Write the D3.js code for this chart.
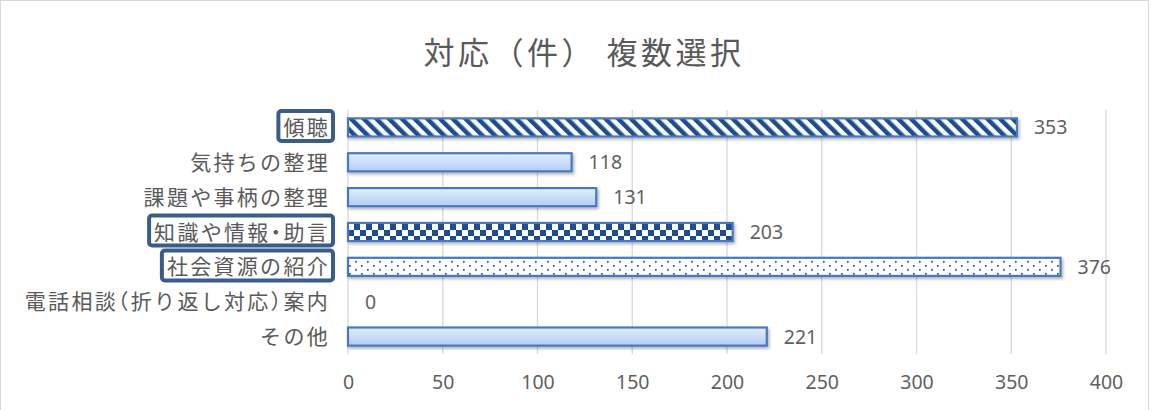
<!DOCTYPE html>
<html>
<head>
<meta charset="utf-8">
<script src="https://cdn.jsdelivr.net/npm/d3@7"></script>
<style>
  body { margin: 0; background: #fff; }
  svg { display: block; font-family: "Noto Sans CJK JP", "Noto Sans", sans-serif; }
</style>
</head>
<body>
<div id="chart"></div>
<script>
// chart data
const categories = ["傾聴", "気持ちの整理", "課題や事柄の整理", "知識や情報・助言", "社会資源の紹介", "電話相談（折り返し対応）案内", "その他"];
const counts = [353, 118, 131, 203, 376, 0, 221];
const fills = ["stripe", "plain", "plain", "check", "dots", "plain", "plain"];
const boxed = [true, false, false, true, true, false, false];
const xTicks = [0, 50, 100, 150, 200, 250, 300, 350, 400];
const title = "対応（件） 複数選択";

const W = 1151, H = 410;
const margin = { left: 348, right: 45, top: 110, bottom: 56 };
const numFont = "'Noto Sans', 'Noto Sans CJK JP', sans-serif";

const svg = d3.select("#chart").append("svg")
    .attr("width", W).attr("height", H);

const defs = svg.append("defs");

// light blue gradient for plain bars
const grad = defs.append("linearGradient").attr("id", "barGrad")
    .attr("x1", 0).attr("y1", 0).attr("x2", 0).attr("y2", 1);
grad.append("stop").attr("offset", "0%").attr("stop-color", "#e3eefd");
grad.append("stop").attr("offset", "100%").attr("stop-color", "#b3cdf6");

const dark = "#1f4e8c";

// diagonal stripes
const ps = defs.append("pattern").attr("id", "stripe").attr("patternUnits", "userSpaceOnUse")
    .attr("width", 9).attr("height", 9).attr("patternTransform", "rotate(-45)");
ps.append("rect").attr("width", 9).attr("height", 9).attr("fill", "#fff");
ps.append("rect").attr("width", 4.5).attr("height", 9).attr("fill", dark);

// checkerboard
const pc = defs.append("pattern").attr("id", "check").attr("patternUnits", "userSpaceOnUse")
    .attr("width", 12).attr("height", 12).attr("y", 2);
pc.append("rect").attr("width", 12).attr("height", 12).attr("fill", "#fff");
pc.append("rect").attr("width", 6).attr("height", 6).attr("fill", dark);
pc.append("rect").attr("x", 6).attr("y", 6).attr("width", 6).attr("height", 6).attr("fill", dark);

// dots
const pd = defs.append("pattern").attr("id", "dots").attr("patternUnits", "userSpaceOnUse")
    .attr("width", 12).attr("height", 8);
pd.append("rect").attr("width", 12).attr("height", 8).attr("fill", "#fff");
pd.append("rect").attr("x", 1).attr("y", 1).attr("width", 1.7).attr("height", 1.7).attr("fill", dark);
pd.append("rect").attr("x", 7).attr("y", 5).attr("width", 1.7).attr("height", 1.7).attr("fill", dark);

// shadow
const filt = defs.append("filter").attr("id", "shadow").attr("x", "-5%").attr("y", "-30%")
    .attr("width", "110%").attr("height", "170%");
filt.append("feDropShadow").attr("dx", 1.5).attr("dy", 2).attr("stdDeviation", 1.5)
    .attr("flood-color", "#000").attr("flood-opacity", 0.3);

// chart frame
svg.append("rect").attr("x", 0.5).attr("y", 0.5).attr("width", W - 3).attr("height", H + 5)
    .attr("fill", "#fff").attr("stroke", "#d9d9d9");

// title
svg.append("text").attr("x", 584).attr("y", 64)
    .attr("text-anchor", "middle").attr("font-size", 31).attr("fill", "#595959")
    .attr("letter-spacing", 3.5).text(title);

const x = d3.scaleLinear().domain([0, 400]).range([margin.left, W - margin.right]);
const y = d3.scaleBand().domain(categories).range([margin.top, H - margin.bottom]).paddingInner(0.48).paddingOuter(0.24);

// gridlines
svg.append("g").selectAll("line").data(xTicks).join("line")
    .attr("x1", d => x(d)).attr("x2", d => x(d))
    .attr("y1", margin.top).attr("y2", H - margin.bottom)
    .attr("stroke", "#d9d9d9").attr("stroke-width", 1.3);

// x tick labels
const xAxis = svg.append("g").attr("transform", `translate(0,${H - margin.bottom})`)
    .call(d3.axisBottom(x).tickValues(xTicks).tickSize(0).tickPadding(21));
xAxis.select(".domain").remove();
xAxis.selectAll("text").attr("font-size", 19.5).attr("fill", "#5f5f5f")
    .attr("font-family", numFont);

// bars
const rows = categories.map((c, i) => ({ c, v: counts[i], f: fills[i], b: boxed[i] }));
svg.append("g").selectAll("rect").data(rows.filter(d => d.v > 0)).join("rect")
    .attr("x", x(0)).attr("y", d => y(d.c))
    .attr("width", d => x(d.v) - x(0)).attr("height", y.bandwidth())
    .attr("fill", d => d.f === "plain" ? "url(#barGrad)" : `url(#${d.f})`)
    .attr("stroke", "#4a78c0").attr("stroke-width", 2.2)
    .attr("filter", "url(#shadow)");

// value labels
svg.append("g").selectAll("text").data(rows).join("text")
    .attr("x", d => x(d.v) + 17).attr("y", d => y(d.c) + y.bandwidth() / 2)
    .attr("dy", "0.36em").attr("font-size", 19.5).attr("fill", "#5f5f5f")
    .attr("font-family", numFont)
    .text(d => d.v);

// category labels
const lab = svg.append("g").selectAll("g").data(rows).join("g");
lab.append("text")
    .attr("x", 330).attr("y", d => y(d.c) + y.bandwidth() / 2)
    .attr("dy", "0.36em").attr("text-anchor", "end")
    .attr("font-size", 21).attr("letter-spacing", 2.3).attr("fill", "#595959")
    .style("font-feature-settings", "'halt'")
    .text(d => d.c);
lab.filter(d => d.b).each(function () {
    const g = d3.select(this);
    const bb = g.select("text").node().getBBox();
    g.insert("rect", "text")
        .attr("x", bb.x - 5).attr("y", bb.y)
        .attr("width", bb.width + 8).attr("height", bb.height)
        .attr("rx", 3).attr("fill", "#fff")
        .attr("stroke", "#385d8a").attr("stroke-width", 4);
});
</script>
</body>
</html>
